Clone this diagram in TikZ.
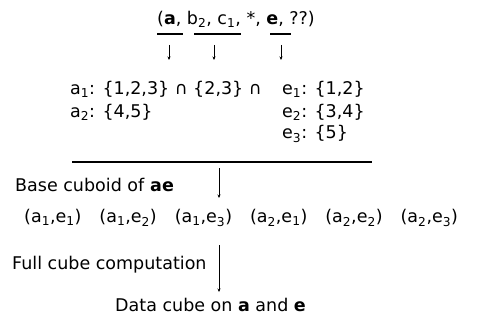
\documentclass[tikz,border=0pt]{standalone}
\usepackage{fontspec}
\setmainfont{DejaVu Sans}
\usetikzlibrary{arrows.meta}
\newcommand{\sbs}[1]{\textsubscript{#1}}
\begin{document}
\begin{tikzpicture}[x=1pt,y=-1pt,
  txt/.style={font=\fontsize{17.5}{20}\selectfont, inner sep=0pt, anchor=west},
  arr/.style={line width=0.5pt, -{Stealth[length=3.5pt,width=3pt]}},
  ul/.style={line width=2pt}]
\useasboundingbox (0,0) rectangle (478,321);
\node[txt] (tup) at (157,19) {(\textbf{a}, b\sbs{2}, c\sbs{1}, *, \textbf{e}, ??)};
\coordinate (u1a) at (157,34); \coordinate (u1b) at (183,34);
\coordinate (u2a) at (194,34); \coordinate (u2b) at (241,34);
\coordinate (u3a) at (270,34); \coordinate (u3b) at (291,34);
\draw[ul] (u1a) -- (u1b);
\draw[ul] (u2a) -- (u2b);
\draw[ul] (u3a) -- (u3b);
\coordinate (s1) at (169,45); \coordinate (t1) at (169,60);
\coordinate (s2) at (214,45); \coordinate (t2) at (214,60);
\coordinate (s3) at (281,45); \coordinate (t3) at (281,60);
\draw[arr] (s1) -- (t1);
\draw[arr] (s2) -- (t2);
\draw[arr] (s3) -- (t3);
\node[txt] (a1) at (70,89) {a\sbs{1}: \{1,2,3\} ∩ \{2,3\} ∩};
\node[txt] (a2) at (70,112) {a\sbs{2}: \{4,5\}};
\node[txt] (e1) at (282,89) {e\sbs{1}: \{1,2\}};
\node[txt] (e2) at (282,112) {e\sbs{2}: \{3,4\}};
\node[txt] (e3) at (282,134) {e\sbs{3}: \{5\}};
\coordinate (la) at (72,162); \coordinate (lb) at (372,162);
\draw[line width=2.5pt] (la) -- (lb);
\node[txt] (base) at (15,185) {Base cuboid of \textbf{ae}};
\coordinate (b1) at (219,168); \coordinate (b2) at (219,198);
\draw[arr] (b1) -- (b2);
\node[txt] (cells) at (24,218) {(a\sbs{1},e\sbs{1})\hspace{18pt}(a\sbs{1},e\sbs{2})\hspace{18pt}(a\sbs{1},e\sbs{3})\hspace{18pt}(a\sbs{2},e\sbs{1})\hspace{18pt}(a\sbs{2},e\sbs{2})\hspace{18pt}(a\sbs{2},e\sbs{3})};
\node[txt] (full) at (12,265) {Full cube computation};
\coordinate (c1) at (219,245); \coordinate (c2) at (219,292);
\draw[arr] (c1) -- (c2);
\node[txt] (dc) at (115,305) {Data cube on \textbf{a} and \textbf{e}};
\end{tikzpicture}
\end{document}
